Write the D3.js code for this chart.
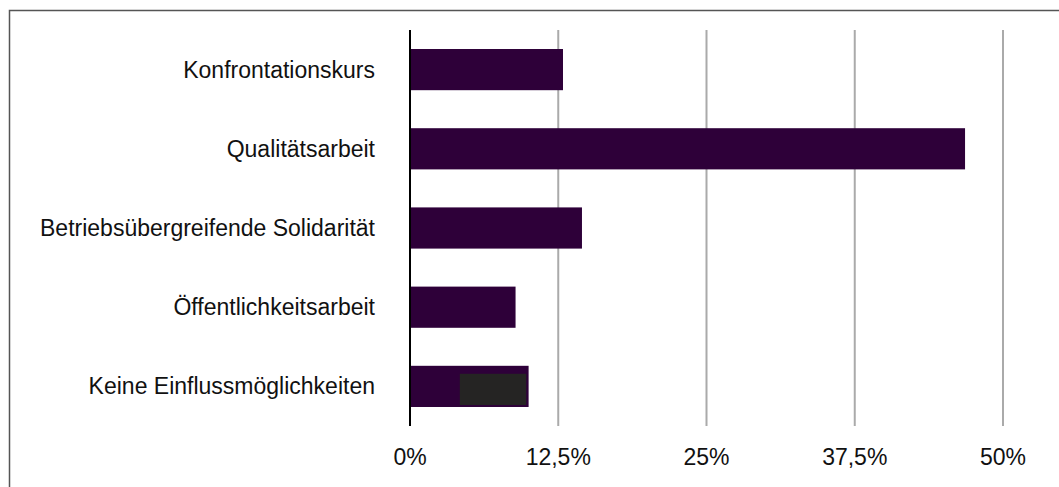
<!DOCTYPE html>
<html>
<head>
<meta charset="utf-8">
<script src="https://cdn.jsdelivr.net/npm/d3@7"></script>
<style>
	body { margin: 0; background: #fff; }
	svg { display: block; font-family: "Liberation Sans", Arial, Helvetica, sans-serif; }
</style>
</head>
<body>
<div class="container"></div>
<script>

var categories = ["Konfrontationskurs", "Qualitätsarbeit", "Betriebsübergreifende Solidarität", "Öffentlichkeitsarbeit", "Keine Einflussmöglichkeiten"];
var values = [12.9, 46.8, 14.5, 8.9, 10.0];
var tickValues = [0, 12.5, 25, 37.5, 50];
var tickLabels = ["0%", "12,5%", "25%", "37,5%", "50%"];
// dark box drawn over the last bar in the original
var overlayCategory = "Keine Einflussmöglichkeiten";
var overlayRange = [4.2, 9.8];

var W = 1059, H = 487;

function makeStage(w, h) {
	var stage = d3.select(".container")
		.append("svg")
		.attr("width", w)
		.attr("height", h);
	return stage;
}

var svg = makeStage(W, H);

// chart frame (runs off the right and bottom)
svg.append("rect")
	.attr("x", 9.5)
	.attr("y", 10.5)
	.attr("width", W)
	.attr("height", H)
	.style("fill", "none")
	.style("stroke", "#555")
	.style("stroke-width", "1.5px");

var x = d3.scaleLinear().domain([0, 50]).range([410, 1003]);
var y = d3.scaleBand().domain(categories).range([30, 426]).paddingInner(0.48).paddingOuter(0.24);

// gridlines
svg.selectAll("line.grid")
	.data(tickValues.slice(1))
	.enter().append("line")
	.attr("class", "grid")
	.attr("x1", function(d) { return x(d); })
	.attr("x2", function(d) { return x(d); })
	.attr("y1", 30)
	.attr("y2", 426)
	.style("stroke", "#aaa")
	.style("stroke-width", "2px");

// bars
svg.selectAll("rect.bar")
	.data(categories)
	.enter().append("rect")
	.attr("class", "bar")
	.attr("x", x(0))
	.attr("y", function(d) { return y(d); })
	.attr("width", function(d, i) { return x(values[i]) - x(0); })
	.attr("height", y.bandwidth())
	.style("fill", "#2e0039");

svg.append("rect")
	.attr("x", x(overlayRange[0]))
	.attr("y", y(overlayCategory) + 8)
	.attr("width", x(overlayRange[1]) - x(overlayRange[0]))
	.attr("height", y.bandwidth() - 10)
	.style("fill", "#252423");

// vertical axis line
svg.append("line")
	.attr("x1", x(0))
	.attr("x2", x(0))
	.attr("y1", 30)
	.attr("y2", 426)
	.style("stroke", "#000")
	.style("stroke-width", "2px");

// category labels
svg.selectAll("text.cat")
	.data(categories)
	.enter().append("text")
	.attr("class", "cat")
	.attr("x", 375)
	.attr("y", function(d) { return y(d) + y.bandwidth() / 2; })
	.attr("dy", "0.35em")
	.attr("text-anchor", "end")
	.style("font-size", "23px")
	.style("fill", "#111")
	.text(function(d) { return d; });

// tick labels
svg.selectAll("text.tick")
	.data(tickValues)
	.enter().append("text")
	.attr("class", "tick")
	.attr("x", function(d) { return x(d); })
	.attr("y", 465)
	.attr("text-anchor", "middle")
	.style("font-size", "23px")
	.style("fill", "#111")
	.text(function(d, i) { return tickLabels[i]; });

</script>
</body>
</html>
